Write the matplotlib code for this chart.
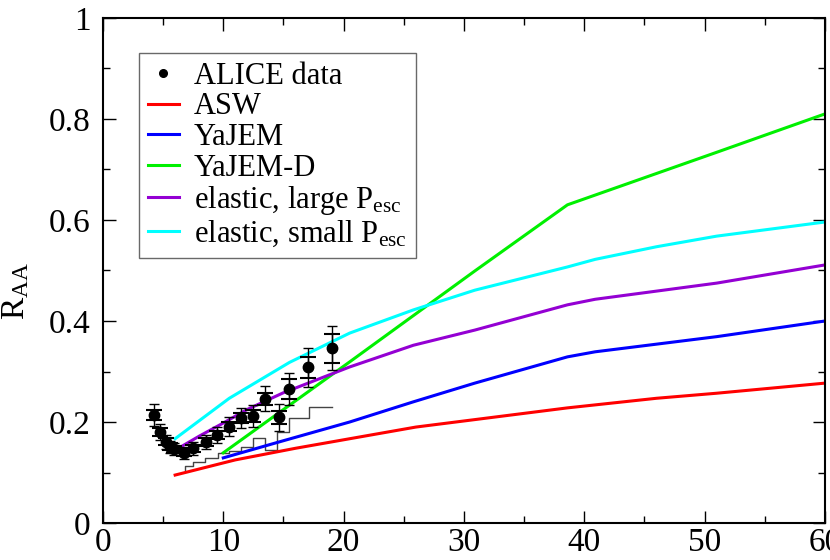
import numpy as np
import matplotlib
matplotlib.use('Agg')
import matplotlib.pyplot as plt
from matplotlib.lines import Line2D
from matplotlib.ticker import MultipleLocator, FormatStrFormatter

plt.rcParams['font.family'] = ['Liberation Serif', 'DejaVu Serif']
plt.rcParams['mathtext.fontset'] = 'custom'
plt.rcParams['mathtext.rm'] = 'Liberation Serif'
plt.rcParams['mathtext.it'] = 'Liberation Serif:italic'

# ALICE data
alice_pt = [4.25, 4.75, 5.2, 5.6, 5.9, 6.7, 7.5, 8.6, 9.5, 10.5, 11.5, 12.5, 13.5, 14.6, 15.5, 17.0, 19.0]
alice_raa = [0.214, 0.181, 0.161, 0.151, 0.146, 0.139, 0.148, 0.161, 0.174, 0.191, 0.208, 0.212, 0.246, 0.209, 0.265, 0.308, 0.346]
alice_stat = [0.022, 0.016, 0.014, 0.012, 0.012, 0.012, 0.013, 0.014, 0.016, 0.018, 0.020, 0.022, 0.025, 0.027, 0.032, 0.038, 0.044]
alice_sys = [0.010, 0.008, 0.007, 0.007, 0.007, 0.007, 0.007, 0.008, 0.008, 0.009, 0.010, 0.011, 0.012, 0.013, 0.020, 0.021, 0.029]

# model curves
asw_pt = [6.0, 11.0, 16.0, 26.0, 38.6, 46.0, 51.0, 60.0]
asw_raa = [0.095, 0.125, 0.148, 0.19, 0.228, 0.247, 0.257, 0.277]

yajem_pt = [10.0, 15.0, 20.5, 25.8, 30.9, 38.6, 40.9, 51.0, 60.0]
yajem_raa = [0.129, 0.163, 0.2, 0.24, 0.277, 0.329, 0.339, 0.369, 0.4]

yajemd_pt = [10.0, 20.5, 30.9, 38.6, 51.0, 60.0]
yajemd_raa = [0.139, 0.319, 0.499, 0.63, 0.734, 0.81]

large_pt = [6.2, 8.0, 10.0, 12.0, 15.0, 20.5, 25.8, 30.9, 38.6, 40.9, 51.0, 60.0]
large_raa = [0.147, 0.172, 0.198, 0.225, 0.258, 0.309, 0.352, 0.382, 0.432, 0.443, 0.475, 0.511]

small_pt = [6.0, 10.5, 15.5, 20.5, 25.8, 30.9, 38.6, 40.9, 46.0, 51.0, 60.0]
small_raa = [0.167, 0.247, 0.318, 0.376, 0.422, 0.461, 0.507, 0.522, 0.547, 0.568, 0.596]

# thin step histogram
step_pt = [6.8, 6.8, 7.5, 8.5, 9.6, 10.5, 11.5, 12.5, 13.5, 14.5, 15.5, 17.1, 19.0]
step_raa = [0.105, 0.113, 0.121, 0.128, 0.138, 0.142, 0.150, 0.169, 0.145, 0.181, 0.207, 0.230, 0.230]

fig = plt.figure(figsize=(8.3, 5.6), dpi=100)
ax = fig.add_axes([0.124, 0.066, 0.870, 0.902])

ax.plot(step_pt, step_raa, drawstyle='steps-post', color='#444444', lw=1.0)

ax.plot(asw_pt, asw_raa, color='#ff0000', lw=2.2, label='ASW')
ax.plot(yajem_pt, yajem_raa, color='#0000ff', lw=2.2, label='YaJEM')
ax.plot(yajemd_pt, yajemd_raa, color='#00f000', lw=2.2, label='YaJEM-D')
ax.plot(large_pt, large_raa, color='#9400d3', lw=2.2, label=r'elastic, large P$_{\mathrm{esc}}$')
ax.plot(small_pt, small_raa, color='#00ffff', lw=2.2, label=r'elastic, small P$_{\mathrm{esc}}$')

ax.errorbar(alice_pt, alice_raa, yerr=alice_sys, fmt='none', ecolor='black',
            elinewidth=1.0, capsize=6, capthick=1.5, zorder=5)
ax.errorbar(alice_pt, alice_raa, yerr=alice_stat, fmt='o', color='black', ms=7.5,
            elinewidth=1.0, capsize=3.5, capthick=1.0, zorder=6)

ax.set_xlim(0, 60)
ax.set_ylim(0, 1)
ax.xaxis.set_major_locator(MultipleLocator(10))
ax.xaxis.set_minor_locator(MultipleLocator(5))
ax.yaxis.set_major_locator(MultipleLocator(0.2))
ax.yaxis.set_minor_locator(MultipleLocator(0.1))
ax.yaxis.set_major_formatter(FormatStrFormatter('%g'))
ax.tick_params(which='both', direction='in', top=True, right=True, labelsize=24)
ax.tick_params(which='major', length=9, width=1.0, pad=3)
ax.tick_params(which='minor', length=5, width=1.0)
ax.tick_params(axis='y', pad=9)
for s in ax.spines.values():
    s.set_linewidth(1.5)

ax.set_ylabel(r'R$_{\mathrm{AA}}$', fontsize=24)
ax.yaxis.set_label_coords(-0.10, 0.46)

handles, labels = ax.get_legend_handles_labels()
data_handle = Line2D([], [], marker='o', ls='none', color='black', ms=5.5)
leg = ax.legend([data_handle] + handles, ['ALICE data'] + labels,
                loc='upper left', bbox_to_anchor=(0.05, 0.931), fontsize=22,
                frameon=True, fancybox=False, edgecolor='#444444',
                handlelength=1.0, handletextpad=0.5, labelspacing=0.05,
                borderpad=0.3, borderaxespad=0.0)
leg.get_frame().set_linewidth(1.0)

fig.savefig('out.png', dpi=100)
